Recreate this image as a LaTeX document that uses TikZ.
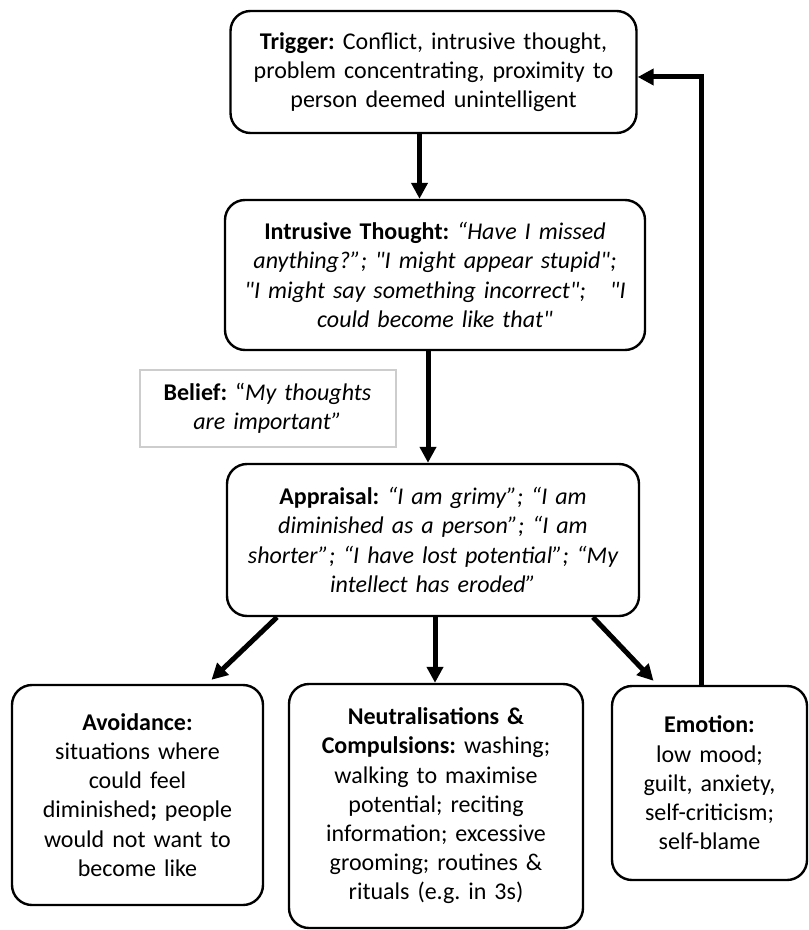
\documentclass[tikz,border=0pt]{standalone}
\usepackage{fontspec}
\setmainfont{Carlito}
\usetikzlibrary{arrows.meta}
\definecolor{beliefgrey}{RGB}{205,205,205}

\begin{document}
\begin{tikzpicture}[x=0.5pt, y=-0.5pt]
            \tikzset{box/.style={draw, rounded corners=10pt, line width=1.2pt, align=center, inner sep=3pt,
                font=\fontsize{12}{14.6}\selectfont\frenchspacing}}
            \tikzset{flow/.style={line width=2.5pt, -{Triangle[length=8pt, width=8pt]}}}
            \useasboundingbox (0, 0) rectangle (808, 930);

            \node[box, text width=197pt, minimum height=61pt] (trigger) at (433.5, 72)
                {\textbf{Trigger:} Conflict, intrusive thought,\\ problem concentrating, proximity to\\ person deemed unintelligent};
            \node[box, text width=204pt, minimum height=75pt] (intrusive) at (435, 275)
                {\textbf{Intrusive Thought:} \itshape “Have I missed\\ anything?”; \textquotedbl I might appear stupid\textquotedbl;\\ \textquotedbl I might say something incorrect\textquotedbl;\ \ \ \textquotedbl I\\ could become like that\textquotedbl};
            \node[box, draw=beliefgrey, line width=1pt, rounded corners=0pt, text width=122pt, minimum height=38.5pt] (belief) at (267.5, 408.5)
                {\textbf{Belief:} “\itshape My thoughts\\ are important”};
            \node[box, text width=200pt, minimum height=76pt] (appraisal) at (433, 540)
                {\textbf{Appraisal:} \itshape “I am grimy”; “I am\\ diminished as a person”; “I am\\ shorter”; “I have lost potential”; “My\\ intellect has eroded”};
            \node[box, text width=119.5pt, minimum height=110pt] (avoid) at (137.5, 795)
                {\textbf{Avoidance:}\\ situations where\\ could feel\\ diminished\textbf{;} people\\ would not want to\\ become like};
            \node[box, text width=141pt, minimum height=122pt] (neutral) at (436, 806)
                {\textbf{Neutralisations \&}\\ \textbf{Compulsions:} washing;\\ walking to maximise\\ potential; reciting\\ information; excessive\\ grooming; routines \&\\ rituals (e.g. in 3s)};
            \node[box, text width=91.5pt, minimum height=97pt] (emotion) at (709.5, 783)
                {\textbf{Emotion:}\\ low mood;\\ guilt, anxiety,\\ self-criticism;\\ self-blame};

            \draw[flow] ([xshift=-7pt]trigger.south) -- ([xshift=-7pt]trigger.south |- intrusive.north);
            \draw[flow] ([xshift=-3.5pt]intrusive.south) -- ([xshift=-3.5pt]intrusive.south |- appraisal.north);
            \draw[flow] ([xshift=-78pt]appraisal.south) -- ([xshift=37pt, yshift=2pt]avoid.north);
            \draw[flow] ([xshift=1pt]appraisal.south) -- ([xshift=1pt]appraisal.south |- neutral.north);
            \draw[flow] ([xshift=80pt]appraisal.south) -- ([xshift=-28pt, yshift=2pt]emotion.north);
            \draw[flow] ([xshift=-4pt]emotion.north) |- ([yshift=-2.5pt]trigger.east);
        \end{tikzpicture}
\end{document}
